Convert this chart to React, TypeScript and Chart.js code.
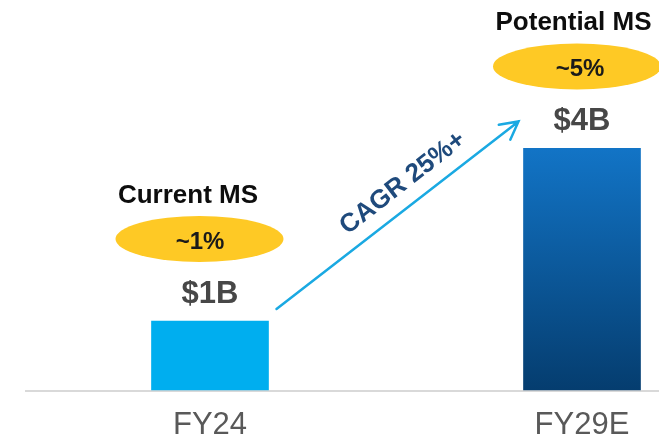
import React, { useEffect, useRef } from "react";
import { Chart, registerables } from "chart.js";

Chart.register(...registerables);

// ---- data ----
const categories = ["FY24", "FY29E"];
const barHeights = [1.0, 3.5]; // bar heights (relative units)
const valueLabels = ["$1B", "$4B"];
const msTitles = ["Current MS", "Potential MS"];
const msValues = ["~1%", "~5%"];
const cagrLabel = "CAGR 25%+";

const FONT = "'Liberation Sans', Arial, Helvetica, sans-serif";

const annotatePlugin = {
  id: "annotate",
  beforeDatasetsDraw(chart: any) {
    const { ctx, chartArea } = chart;
    ctx.save();
    ctx.strokeStyle = "#d9d9d9";
    ctx.lineWidth = 2;
    ctx.beginPath();
    ctx.moveTo(25, chartArea.bottom + 1);
    ctx.lineTo(chart.width, chartArea.bottom + 1);
    ctx.stroke();
    ctx.restore();
  },
  afterDatasetsDraw(chart: any) {
    const ctx = chart.ctx;
    const bars = chart.getDatasetMeta(0).data as any[];
    const titleDx = [-22, -8.5];
    const ellipseDx = [-10.5, -5];
    const pctDx = [-10, -2];
    ctx.save();
    ctx.textAlign = "center";
    ctx.textBaseline = "alphabetic";
    bars.forEach((bar: any, i: number) => {
      const x = bar.x;
      const top = bar.y;
      // value label
      ctx.font = `bold 31px ${FONT}`;
      ctx.fillStyle = "#474747";
      ctx.fillText(valueLabels[i], x, top - 18);
      // ellipse
      ctx.beginPath();
      ctx.ellipse(x + ellipseDx[i], top - 82, 84, 23, 0, 0, Math.PI * 2);
      ctx.fillStyle = "#FEC925";
      ctx.fill();
      // percentage
      ctx.font = `bold 24px ${FONT}`;
      ctx.fillStyle = "#1a1a1a";
      ctx.fillText(msValues[i], x + pctDx[i], top - 72);
      // title
      ctx.font = `bold 26px ${FONT}`;
      ctx.fillStyle = "#0d0d0d";
      ctx.fillText(msTitles[i], x + titleDx[i], top - 118);
    });

    // arrow
    const b0 = bars[0];
    const b1 = bars[1];
    const sx = b0.x + b0.width / 2 + 8;
    const sy = b0.y - 12;
    const ex = b1.x - b1.width / 2 - 5;
    const ey = b1.y - 27;
    const ang = Math.atan2(ey - sy, ex - sx);
    ctx.strokeStyle = "#1AA9E2";
    ctx.lineWidth = 2.5;
    ctx.lineCap = "round";
    ctx.beginPath();
    ctx.moveTo(sx, sy);
    ctx.lineTo(ex, ey);
    const wing = 20;
    const spread = (28 * Math.PI) / 180;
    ctx.moveTo(ex - wing * Math.cos(ang - spread), ey - wing * Math.sin(ang - spread));
    ctx.lineTo(ex, ey);
    ctx.lineTo(ex - wing * Math.cos(ang + spread), ey - wing * Math.sin(ang + spread));
    ctx.stroke();

    // CAGR label along arrow
    const len = Math.hypot(ex - sx, ey - sy);
    const ux = (ex - sx) / len;
    const uy = (ey - sy) / len;
    const nx = uy; // normal pointing up-left
    const ny = -ux;
    const along = 177;
    const off = 15;
    const tx = sx + ux * along + nx * off;
    const ty = sy + uy * along + ny * off;
    ctx.translate(tx, ty);
    ctx.rotate(ang);
    ctx.font = `bold 26px ${FONT}`;
    ctx.fillStyle = "#1F4A7C";
    ctx.textAlign = "center";
    ctx.textBaseline = "alphabetic";
    ctx.fillText(cagrLabel, 0, 0);
    ctx.restore();
  },
};

export default function App() {
  const ref = useRef<HTMLCanvasElement | null>(null);
  useEffect(() => {
    if (!ref.current) return;
    const chart = new Chart(ref.current, {
      type: "bar",
      data: {
        labels: categories,
        datasets: [
          {
            data: barHeights,
            barThickness: 117,
            clip: false as any,
            borderWidth: 0,
            backgroundColor: (c: any) => {
              if (c.dataIndex === 0) return "#00AEEF";
              const chart = c.chart;
              const area = chart.chartArea;
              if (!area || !chart.scales.y) return "#0B5EA6";
              const top = chart.scales.y.getPixelForValue(barHeights[1]);
              const g = chart.ctx.createLinearGradient(0, top, 0, area.bottom);
              g.addColorStop(0, "#1274C6");
              g.addColorStop(1, "#053D6F");
              return g;
            },
          },
        ],
      },
      options: {
        responsive: false,
        animation: false,
        devicePixelRatio: 1,
        layout: { padding: { left: 210, right: 77, top: 0, bottom: 0 } },
        plugins: { legend: { display: false }, tooltip: { enabled: false } },
        scales: {
          x: {
            offset: false,
            grid: { display: false, drawTicks: false },
            border: { display: false },
            ticks: {
              color: "#595959",
              padding: 17,
              font: { family: FONT, size: 31, lineHeight: 1.2 },
              maxRotation: 0,
              autoSkip: false,
            },
            afterFit: (scale: any) => {
              scale.height = 52;
            },
          },
          y: {
            display: false,
            min: 0,
            max: 5.65,
          },
        },
      },
      plugins: [annotatePlugin],
    });
    return () => chart.destroy();
  }, []);
  return (
    <div style={{ position: "fixed", left: 0, top: 0, width: 659, height: 442, background: "#fff", overflow: "hidden" }}>
      <canvas ref={ref} width={659} height={442} style={{ display: "block", width: 659, height: 442 }} />
    </div>
  );
}
